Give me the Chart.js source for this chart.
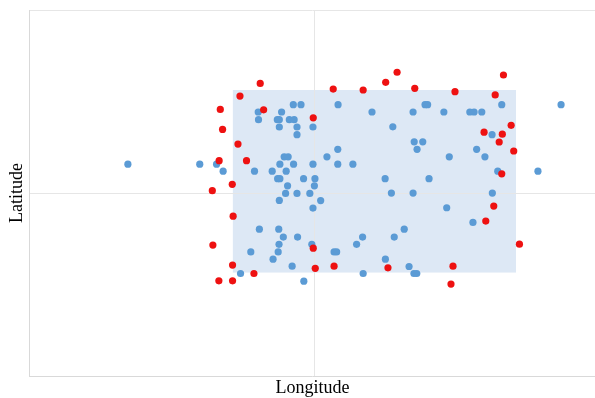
<!DOCTYPE html>
<html>
<head>
<meta charset="utf-8">
<script src="https://cdn.jsdelivr.net/npm/chart.js@4/dist/chart.umd.min.js"></script>
<style>
 html,body{margin:0;padding:0;background:#fff;overflow:hidden}
 #wrap{width:595px;height:398px}
</style>
</head>
<body>
<div id="wrap"><canvas id="geo"></canvas></div>
<script>
// point values (arbitrary lon/lat units, 0 at the crosshair)
const blueLon=[-65.6,-40.4,-34.5,-32.2,-21.2,-15.0,-19.9,-19.8,-11.7,-13.2,-12.5,-9.0,-7.3,-7.6,-4.9,-12.5,-6.3,-0.7,-6.3,-12.3,
 -10.8,-9.4,-7.5,-0.7,-10.1,-13.1,-12.3,-4.0,0,4.2,-9.6,-0.2,-10.3,-6.3,-1.8,2.0,-12.5,-0.7,-19.5,-12.7,
 -11.1,-6.1,-12.6,-1.1,-22.5,-12.9,-14.7,-8.0,-26.1,-3.9,8.1,20.0,34.4,38.6,39.5,45.2,27.3,34.8,37.8,35.8,
 8.0,8.0,13.3,47.1,24.6,40.0,26.8,34.4,46.2,31.3,62.2,55.4,16.7,27.8,14.6,6.7,7.6,24.7,33.0,16.9,
 34.7,35.7,65.5,54.3,55.8,58.5,86.3,62.1,56.7,59.6,64.1,78.2];
const blueLat=[15.8,15.8,15.8,12.0,12.0,12.0,44.3,40.1,44.3,40.1,40.1,40.1,40.1,48.3,48.3,36.1,36.1,36.1,31.9,15.8,
 19.8,19.8,15.8,15.8,12.0,7.9,7.9,7.9,7.9,19.8,4.0,4.0,-0.2,-0.2,-0.2,-4.1,-4.0,-8.2,-19.7,-19.7,
 -24.0,-24.0,-28.0,-28.0,-32.1,-32.1,-36.1,-39.9,-43.9,-48.1,48.3,44.3,44.3,48.3,48.3,44.3,36.2,28.0,28.0,23.9,
 23.9,15.8,15.8,19.8,7.9,7.9,0,0,-8.0,-19.7,0,-16.0,-24.0,-24.0,-28.0,-32.1,-32.1,-36.1,-40.1,-43.9,
 -43.9,-43.9,48.3,44.3,44.3,44.3,48.3,31.9,23.9,19.8,12.0,12.0];
const redLon=[-19.2,-26.3,-33.2,-18.0,-0.6,-32.4,-27.0,-33.6,-24.0,-29.0,-36.0,-28.7,-35.8,-28.9,-21.4,-33.7,-28.9,-0.6,0.1,6.4,
 16.9,24.8,28.8,35.0,49.1,66.1,63.2,68.8,59.3,65.7,64.6,69.7,65.5,62.7,59.9,71.7,6.7,25.6,48.4,47.7];
const redLat=[59.9,53.0,45.7,45.5,41.1,34.8,26.8,17.7,17.7,4.8,1.3,-12.6,-28.4,-39.3,-43.9,-47.9,-47.9,-30.1,-41.1,56.8,
 56.3,60.5,66.0,57.2,55.4,64.5,53.6,37.0,33.3,32.2,27.9,23.0,10.5,-7.1,-15.3,-27.9,-39.9,-40.8,-39.9,-49.7];
// shaded region and axis ticks
const boxLon=[-28.8,70.5], boxLat=[-43.4,56.3];
const lonTicks=[-100,0,98.2], latTicks=[-100,0,100];

const pts=(xs,ys)=>xs.map((x,i)=>({x,y:ys[i]}));

const regionBox={id:'regionBox',beforeDraw(chart){
  const {ctx,scales:{x,y}}=chart;
  const l=x.getPixelForValue(boxLon[0]),r=x.getPixelForValue(boxLon[1]);
  const t=y.getPixelForValue(boxLat[1]),b=y.getPixelForValue(boxLat[0]);
  ctx.save();ctx.fillStyle='#dde8f5';ctx.fillRect(l,t,r-l,b-t);ctx.restore();
}};

const titleFont={family:'"Liberation Serif","Times New Roman",serif',size:18,lineHeight:1.1};
const grid=c=>({drawTicks:false,lineWidth:1,color:ctx=>c(ctx.tick&&ctx.tick.value)?'#e6e6e6':'rgba(0,0,0,0)'});

new Chart(document.getElementById('geo'),{
  type:'scatter',
  data:{datasets:[
    {label:'Red',data:pts(redLon,redLat),backgroundColor:'#ee1111',borderWidth:0,pointRadius:3.6},
    {label:'Blue',data:pts(blueLon,blueLat),backgroundColor:'#5b9bd5',borderWidth:0,pointRadius:3.6}
  ]},
  options:{
    responsive:true,maintainAspectRatio:false,animation:false,
    layout:{autoPadding:false,padding:{left:7,top:10,right:0,bottom:0}},
    plugins:{legend:{display:false},tooltip:{enabled:false}},
    scales:{
      x:{min:lonTicks[0],max:lonTicks[2],afterBuildTicks:s=>{s.ticks=lonTicks.map(v=>({value:v}))},
        ticks:{display:false},grid:grid(v=>v===0),border:{color:'#d9d9d9'},
        title:{display:true,text:'Longitude',color:'#000',font:titleFont,padding:{top:2,bottom:0}}},
      y:{min:latTicks[0],max:latTicks[2],afterBuildTicks:s=>{s.ticks=latTicks.map(v=>({value:v}))},
        ticks:{display:false},grid:grid(v=>v===0||v===100),border:{color:'#d9d9d9'},
        title:{display:true,text:'Latitude',color:'#000',font:titleFont,padding:{top:0,bottom:3}}}
    }
  },
  plugins:[regionBox]
});
</script>
</body>
</html>
